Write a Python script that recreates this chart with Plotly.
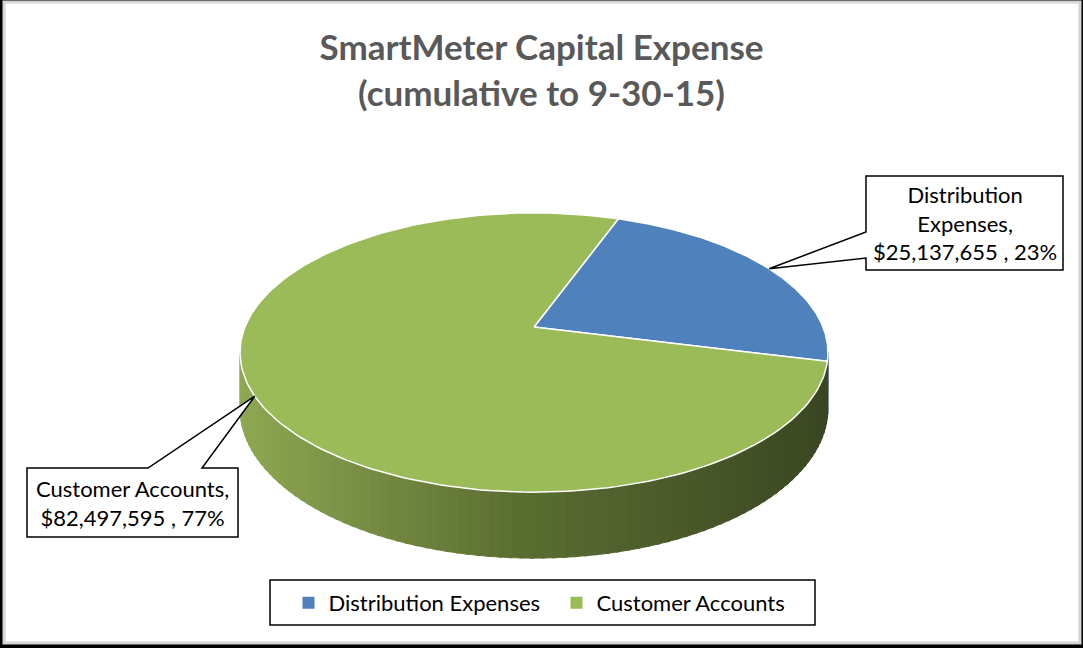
import numpy as np
import plotly.graph_objects as go

# ---------------- data ----------------
title_lines = ["SmartMeter Capital Expense", "(cumulative to 9-30-15)"]
categories = ["Distribution Expenses", "Customer Accounts"]
values = [25137655, 82497595]
label_name_lines = [["Distribution", "Expenses"], ["Customer Accounts"]]
colors = ["#4F81BD", "#9BBB59"]
wall_colors = [(38, 64, 100), None]  # blue side (hidden sliver), green uses gradient

# ---------------- geometry / style (3-D pie projection) ----------------
W, H = 1083, 648
CX, CY = 534, 327          # projected pie centre (px)
S = 289                    # radius scale
SIN_T = 0.467              # tilt
P = 0.183                  # perspective strength
WALL = 53.9                # wall thickness factor
START = 20                 # angle of first slice (deg, clockwise from 12 o'clock)
FONT = "Lato"

total = sum(values)
fracs = [v / total for v in values]
pcts = [round(100 * f) for f in fracs]
bounds = [START]
for f in fracs:
    bounds.append(bounds[-1] + 360 * f)


def rim(phi_deg, r=1.0):
    ph = np.radians(phi_deg)
    u = r * np.sin(ph)
    v = -r * np.cos(ph)
    w = 1 - P * v
    return CX + S * u / w, CY + S * SIN_T * v / w, v


def wall_bottom(phi_deg):
    x, y, v = rim(phi_deg)
    return x, y + WALL / (1 - P * v)


fig = go.Figure()

# ---- side wall (front half only) ----
vis0 = np.degrees(np.arccos(-P))          # right silhouette
vis1 = 360 - vis0                          # left silhouette
xl = rim(vis1)[0]
xr = rim(vis0)[0]
stops = [(0.0, (142, 168, 82)), (0.45, (92, 112, 50)), (1.0, (58, 71, 34))]


def grad(t):
    t = min(max(t, 0), 1)
    for (t0, c0), (t1, c1) in zip(stops[:-1], stops[1:]):
        if t <= t1:
            a = (t - t0) / (t1 - t0)
            return tuple(int(round(c0[i] + a * (c1[i] - c0[i]))) for i in range(3))
    return stops[-1][1]


N = 90
edges = np.linspace(vis0, vis1, N + 1)
for a0, a1 in zip(edges[:-1], edges[1:]):
    ang = np.linspace(a0, a1 + 0.6, 4)
    top = [rim(a)[:2] for a in ang]
    bot = [wall_bottom(a) for a in ang[::-1]]
    pts = top + bot
    xs = [p[0] for p in pts] + [pts[0][0]]
    ys = [p[1] for p in pts] + [pts[0][1]]
    mid = (a0 + a1) / 2
    slice_idx = 0 if (mid - START) % 360 < 360 * fracs[0] else 1
    if slice_idx == 0:
        c = wall_colors[0]
    else:
        c = grad((rim(mid)[0] - xl) / (xr - xl))
    col = "rgb(%d,%d,%d)" % c
    fig.add_trace(go.Scatter(x=xs, y=ys, mode="lines", fill="toself",
                             fillcolor=col, line=dict(color=col, width=0.8),
                             hoverinfo="skip", showlegend=False))

# ---- top face slices ----
for i, cat in enumerate(categories):
    ang = np.linspace(bounds[i], bounds[i + 1], 200)
    pts = [rim(a)[:2] for a in ang]
    xs = [CX] + [p[0] for p in pts] + [CX]
    ys = [CY] + [p[1] for p in pts] + [CY]
    fig.add_trace(go.Scatter(x=xs, y=ys, mode="lines", fill="toself",
                             fillcolor=colors[i], line=dict(color="white", width=1.5),
                             name=cat, hoverinfo="name", showlegend=False))

# ---- legend entries ----
for i, cat in enumerate(categories):
    fig.add_trace(go.Scatter(x=[None], y=[None], mode="markers", name=cat,
                             marker=dict(symbol="square", size=9, color=colors[i])))

# ---- callouts (box with wedge pointer to slice midpoint) ----
shapes = []
# frame
shapes.append(dict(type="rect", xref="x", yref="y", x0=4, y0=2, x1=1080, y1=643,
                   fillcolor="white", line=dict(color="#d4d4d4", width=3), layer="below"))

mids = [(bounds[i] + bounds[i + 1]) / 2 for i in range(len(values))]
tips = [rim(m)[:2] for m in mids]

# distribution: box on right, pointer from left edge
bx0, by0, bx1, by1 = 866, 176, 1063, 270
tx, ty = tips[0]
path = (f"M {bx0},{by0} L {bx1},{by0} L {bx1},{by1} L {bx0},{by1} L {bx0},258 "
        f"L {tx:.1f},{ty:.1f} L {bx0},232 Z")
shapes.append(dict(type="path", xref="x", yref="y", path=path, fillcolor="white",
                   line=dict(color="black", width=1.5)))
# customer: box bottom-left, pointer from top edge
cx0, cy0, cx1, cy1 = 27, 468, 238, 537
tx2, ty2 = tips[1]
path2 = (f"M {cx0},{cy0} L 148,{cy0} L {tx2:.1f},{ty2:.1f} L 202,{cy0} L {cx1},{cy0} "
         f"L {cx1},{cy1} L {cx0},{cy1} Z")
shapes.append(dict(type="path", xref="x", yref="y", path=path2, fillcolor="white",
                   line=dict(color="black", width=1.5)))
# legend box
shapes.append(dict(type="rect", xref="x", yref="y", x0=270, y0=580, x1=815, y1=625,
                   fillcolor="white", line=dict(color="black", width=1.5)))

labels = []
for i in range(len(values)):
    lines = list(label_name_lines[i])
    lines[-1] = lines[-1] + ","
    lines.append(f"${values[i]:,} , {pcts[i]}%")
    labels.append("<br>".join(lines))

annotations = [
    dict(x=(bx0 + bx1) / 2, y=(by0 + by1) / 2, xref="x", yref="y", text=labels[0],
         showarrow=False, font=dict(family=FONT, size=22, color="black"), align="center"),
    dict(x=(cx0 + cx1) / 2, y=(cy0 + cy1) / 2, xref="x", yref="y", text=labels[1],
         showarrow=False, font=dict(family=FONT, size=22, color="black"), align="center"),
]

fig.update_layout(
    width=W, height=H,
    margin=dict(l=0, r=0, t=0, b=0),
    paper_bgcolor="black", plot_bgcolor="black",
    xaxis=dict(range=[0, W], visible=False, fixedrange=True),
    yaxis=dict(range=[H, 0], visible=False, fixedrange=True),
    title=dict(text="<b>" + "<br>".join(title_lines) + "</b>", x=0.5, xanchor="center",
               y=1 - 60 / H, yanchor="middle", yref="container",
               font=dict(family=FONT, size=35, color="#595959")),
    shapes=shapes,
    annotations=annotations,
    showlegend=True,
    legend=dict(orientation="h", x=(W / 2 + 15) / W, xanchor="center", y=1 - 603 / H,
                yanchor="middle", bgcolor="rgba(0,0,0,0)", borderwidth=0,
                font=dict(family=FONT, size=22, color="black"),
                itemsizing="constant", entrywidth=223, entrywidthmode="pixels"),
)

fig.write_html("out.html", config={"displayModeBar": False},
               post_script="document.body.style.margin='0';document.body.style.padding='0';"
                           "document.body.style.overflow='hidden';")
